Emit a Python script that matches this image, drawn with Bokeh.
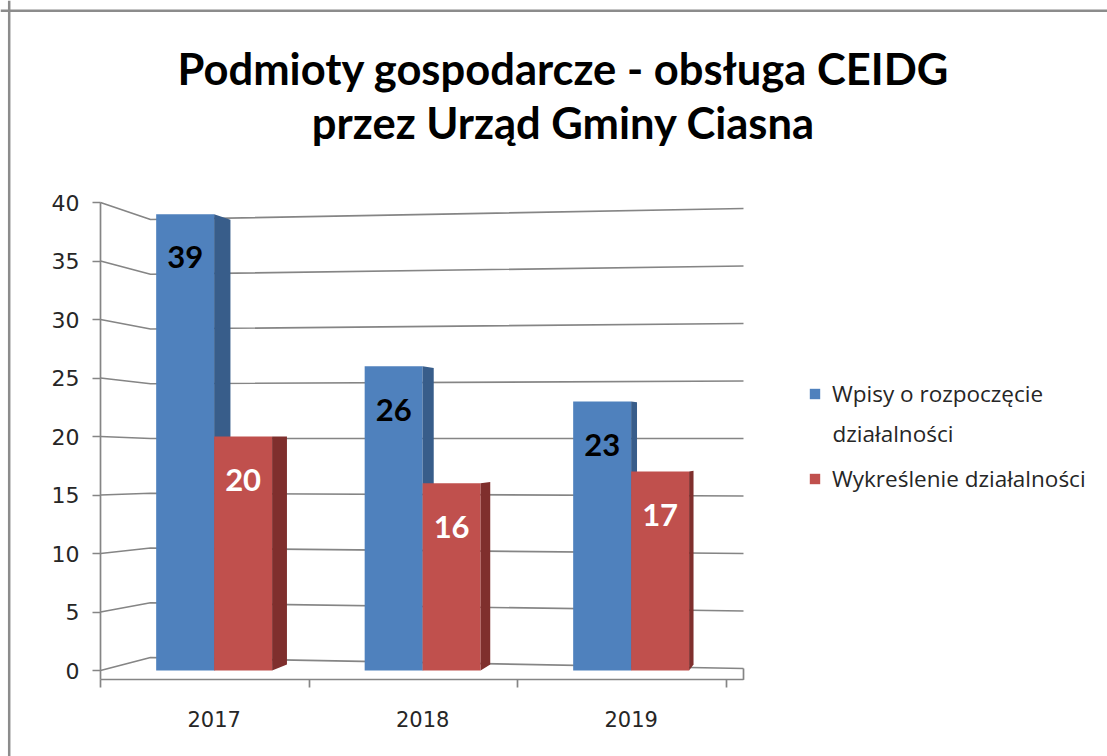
from bokeh.plotting import figure
from bokeh.models import Range1d, LinearAxis, FixedTicker, Span, Label, Legend, LegendItem, ColumnDataSource
from bokeh.embed import file_html
from bokeh.resources import INLINE
from bokeh.core.properties import value

# ---------------- data ----------------
title_lines = ["Podmioty gospodarcze - obsługa CEIDG", "przez Urząd Gminy Ciasna"]
years = ["2017", "2018", "2019"]
series_names = ["Wpisy o rozpoczęcie", "działalności", "Wykreślenie działalności"]
wpisy = [39, 26, 23]
wykreslenia = [20, 16, 17]
y_ticks = [0, 5, 10, 15, 20, 25, 30, 35, 40]

# ---------------- style ----------------
BLUE, BLUE_SIDE = "#4F81BD", "#385D8A"
RED, RED_SIDE = "#C0504D", "#7F2F2D"
GRID = "#858585"
TXT = "#262626"
W, H = 1107, 756
SX, SY = 208.5, 11.7    # px per category / per unit
OX, OY = 100, 670       # pixel of data origin
CAT_OFF = 0.545         # category centre offset
BAR_W = 0.278
AXIS_Y = -0.8           # front floor line (data units)
VP = ((866 - OX) / SX, (OY - 434) / SY)   # perspective vanishing point
DEPTH = 0.025
BACK_L = 50 / SX
BACK_R = 643 / SX

p = figure(width=W, height=H,
           x_range=Range1d(-OX / SX, (W - OX) / SX),
           y_range=Range1d((OY - H) / SY, OY / SY),
           x_axis_type=None, y_axis_type=None, toolbar_location=None, output_backend="svg",
           min_border=0)
p.outline_line_color = None
p.background_fill_color = "white"
p.border_fill_color = "white"

# ---------------- perspective grid ----------------
def back_left_y(v):
    return (13 + 10.95 * v) / SY

def back_right_y(v):
    return (2 + 11.5 * v) / SY

gx, gy = [], []
for v in y_ticks:
    gx.append([0, BACK_L, BACK_R])
    gy.append([v, back_left_y(v), back_right_y(v)])
p.multi_line(gx, gy, line_color=GRID, line_width=1.7)
p.line([BACK_R, BACK_R], [back_right_y(0), AXIS_Y], line_color=GRID, line_width=1.7)

# ---------------- bars ----------------
idx = list(range(len(years)))
bx = [i + CAT_OFF - BAR_W / 2 for i in idx]
rx = [i + CAT_OFF + BAR_W / 2 for i in idx]

def sides(centers, vals):
    xs, ys = [], []
    for c, v in zip(centers, vals):
        xr = c + BAR_W / 2
        xb = xr + DEPTH * (VP[0] - xr)
        xs.append([xr, xr, xb, xb])
        ys.append([0, v, v + DEPTH * (VP[1] - v), DEPTH * VP[1]])
    return xs, ys

src_b = ColumnDataSource(dict(x=bx, top=wpisy))
src_r = ColumnDataSource(dict(x=rx, top=wykreslenia))

rb = p.vbar(x="x", top="top", bottom=0, width=BAR_W, source=src_b, fill_color=BLUE, line_color=None)
sxb, syb = sides(bx, wpisy)
p.patches(sxb, syb, fill_color=BLUE_SIDE, line_color=None)
rr = p.vbar(x="x", top="top", bottom=0, width=BAR_W, source=src_r, fill_color=RED, line_color=None)
sxr, syr = sides(rx, wykreslenia)
p.patches(sxr, syr, fill_color=RED_SIDE, line_color=None)

LBL_DROP = 3.7
p.text(x=bx, y=[v - LBL_DROP for v in wpisy], text=[str(v) for v in wpisy],
       text_font=value("Lato"), text_font_style="bold", text_font_size="31px",
       text_color="black", text_align="center", text_baseline="middle")
p.text(x=rx, y=[v - LBL_DROP for v in wykreslenia], text=[str(v) for v in wykreslenia],
       text_font=value("Lato"), text_font_style="bold", text_font_size="31px",
       text_color="white", text_align="center", text_baseline="middle")

# ---------------- axes ----------------
yax = LinearAxis(fixed_location=0, ticker=FixedTicker(ticks=y_ticks), bounds=(AXIS_Y, 40))
yax.axis_line_color = GRID
yax.axis_line_width = 1.7
yax.major_tick_line_color = GRID
yax.major_tick_line_width = 1.7
yax.major_tick_in = 0
yax.major_tick_out = 8
yax.minor_tick_line_color = None
yax.major_label_text_font = "DejaVu Sans"
yax.major_label_text_font_size = "22px"
yax.major_label_text_color = TXT
yax.major_label_standoff = 13
p.add_layout(yax, "left")

xax = LinearAxis(fixed_location=AXIS_Y, ticker=FixedTicker(ticks=[0, 1, 2, 3]), bounds=(0, BACK_R))
xax.axis_line_color = GRID
xax.axis_line_width = 1.7
xax.major_tick_line_color = GRID
xax.major_tick_line_width = 1.7
xax.major_tick_in = 0
xax.major_tick_out = 8
xax.minor_tick_line_color = None
xax.major_label_text_font_size = "0px"
xax.major_label_overrides = {0: "", 1: "", 2: "", 3: ""}
p.add_layout(xax, "below")

cax = LinearAxis(fixed_location=AXIS_Y, ticker=FixedTicker(ticks=[i + CAT_OFF for i in idx]))
cax.major_label_overrides = {i + CAT_OFF: y for i, y in zip(idx, years)}
cax.axis_line_color = None
cax.major_tick_line_color = None
cax.minor_tick_line_color = None
cax.major_label_text_font = "DejaVu Sans"
cax.major_label_text_font_size = "21px"
cax.major_label_text_color = TXT
cax.major_label_standoff = 25
p.add_layout(cax, "below")

# ---------------- legend ----------------
legend = Legend(items=[LegendItem(label=series_names[0], renderers=[rb]),
                       LegendItem(label=series_names[2], renderers=[rr])],
                location=(808, 262))
legend.label_text_font = "Open Sans"
legend.label_text_font_size = "22.5px"
legend.label_text_color = TXT
legend.glyph_width = 13
legend.glyph_height = 13
legend.label_standoff = 11
legend.spacing = 54
legend.padding = 0
legend.margin = 0
legend.border_line_color = None
legend.background_fill_alpha = 0
p.add_layout(legend)
p.add_layout(Label(x=832, y=H - 433, x_units="screen", y_units="screen", text=series_names[1],
                   text_align="left", text_baseline="middle", text_font="Open Sans",
                   text_font_size="22.5px", text_color=TXT))

# ---------------- title ----------------
p.add_layout(Label(x=563, y=H - 67, x_units="screen", y_units="screen", text=title_lines[0],
                   text_align="center", text_baseline="alphabetic", text_font="Lato",
                   text_font_style="bold", text_font_size="43.5px", text_color="black"))
p.add_layout(Label(x=563, y=H - 121, x_units="screen", y_units="screen", text=title_lines[1],
                   text_align="center", text_baseline="alphabetic", text_font="Lato",
                   text_font_style="bold", text_font_size="43.5px", text_color="black"))

# ---------------- chart frame ----------------
p.add_layout(Span(location=(8.7 - OX) / SX, dimension="height", line_color="#8c8c8c", line_width=2.5))
p.add_layout(Span(location=(OY - 10.3) / SY, dimension="width", line_color="#8c8c8c", line_width=2.5))

open("out.html", "w").write(file_html(p, INLINE))
